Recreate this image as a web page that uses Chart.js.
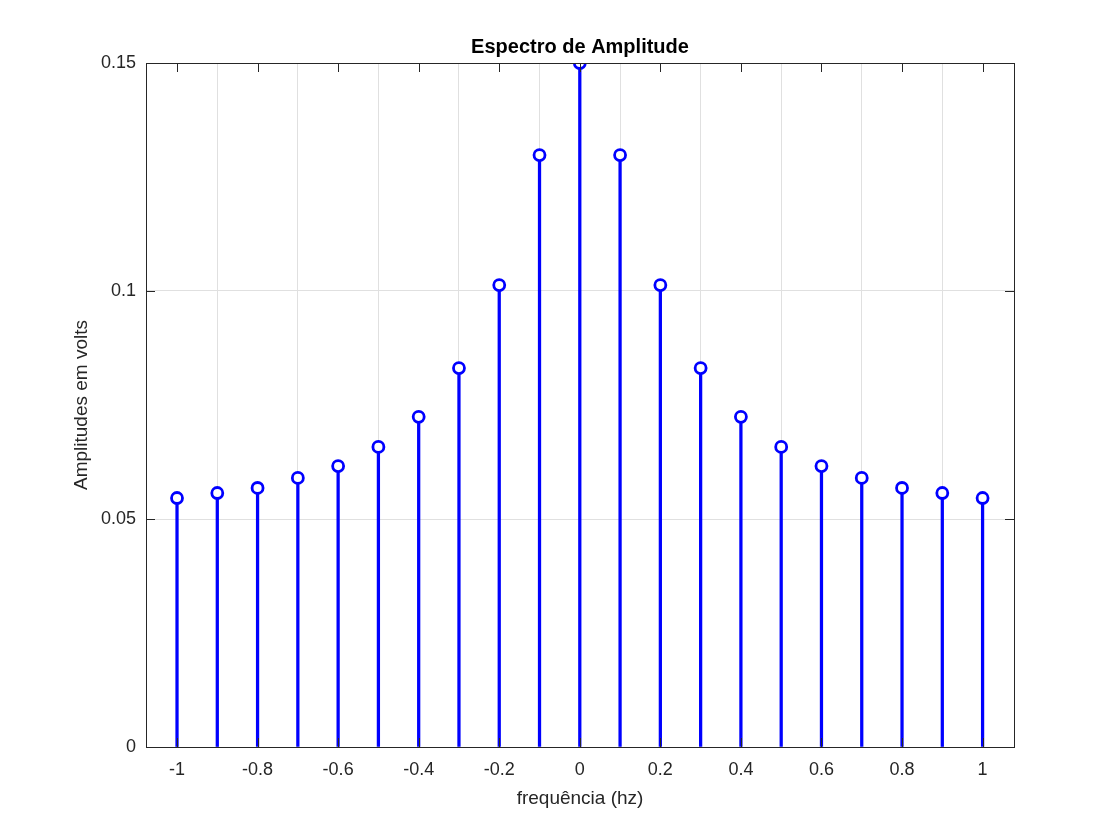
<!DOCTYPE html>
<html><head><meta charset="utf-8">
<script src="https://cdn.jsdelivr.net/npm/chart.js@4/dist/chart.umd.min.js"></script>
<style>html,body{margin:0;background:#fff}#wrap{width:1120px;height:840px}</style>
</head><body><div id="wrap"><canvas id="c"></canvas></div>
<script>
const freqs = [-1,-0.9,-0.8,-0.7,-0.6,-0.5,-0.4,-0.3,-0.2,-0.1,0,0.1,0.2,0.3,0.4,0.5,0.6,0.7,0.8,0.9,1];
const amps = [0.0546,0.0557,0.0568,0.0590,0.0616,0.0658,0.0724,0.0831,0.1013,0.1298,0.15,
              0.1298,0.1013,0.0831,0.0724,0.0658,0.0616,0.0590,0.0568,0.0557,0.0546];
const xTicks = [-1,-0.8,-0.6,-0.4,-0.2,0,0.2,0.4,0.6,0.8,1];
const yTicks = [0,0.05,0.1,0.15];
const titleText = "Espectro de Amplitude";
const FONT = "'Liberation Sans', Arial, sans-serif";

const pts = freqs.map((f,i)=>({x:f, y:amps[i]}));

const frame = {
  id:"frame",
  afterDraw(chart){
    const {ctx, chartArea:a, scales:{x,y}} = chart;
    ctx.save();
    ctx.strokeStyle="#262626"; ctx.lineWidth=1;
    ctx.strokeRect(a.left+0.5,a.top+0.5,a.right-a.left,a.bottom-a.top);
    ctx.beginPath();
    xTicks.forEach(v=>{const px=Math.round(x.getPixelForValue(v))+0.5;
      ctx.moveTo(px,a.bottom);ctx.lineTo(px,a.bottom-9);ctx.moveTo(px,a.top);ctx.lineTo(px,a.top+9);});
    yTicks.forEach(v=>{const py=Math.round(y.getPixelForValue(v))+0.5;
      ctx.moveTo(a.left,py);ctx.lineTo(a.left+9,py);ctx.moveTo(a.right,py);ctx.lineTo(a.right-9,py);});
    ctx.stroke();
    ctx.fillStyle="#000"; ctx.font="bold 20px "+FONT; ctx.textAlign="center"; ctx.textBaseline="bottom";
    ctx.fillText(titleText,(a.left+a.right)/2,a.top-6);
    ctx.restore();
  }
};

new Chart(document.getElementById("c"),{
  type:"bar",
  data:{datasets:[
    {type:"scatter",data:pts,pointRadius:5.5,pointBorderWidth:2.8,pointBackgroundColor:"#fff",
     pointBorderColor:"#0000ff",borderColor:"#0000ff",order:0},
    {type:"bar",data:pts,backgroundColor:"#0000ff",barThickness:2.6,order:1}
  ]},
  options:{
    responsive:true,maintainAspectRatio:false,animation:false,
    layout:{padding:{top:63,right:106,left:70,bottom:30}},
    plugins:{legend:{display:false},tooltip:{enabled:false}},
    scales:{
      x:{type:"linear",min:-1.077,max:1.078,offset:false,
        afterBuildTicks(s){s.ticks=xTicks.map(v=>({value:v}));},
        afterFit(s){s.height=63;},
        grid:{color:"#e0e0e0",tickLength:0,drawTicks:false},border:{display:false},
        ticks:{padding:12,color:"#262626",font:{family:FONT,size:18},callback:v=>String(Math.round(v*10)/10)},
        title:{display:true,text:"frequência (hz)",color:"#262626",font:{family:FONT,size:19},padding:{top:4,bottom:0}}},
      y:{min:0,max:0.15,
        afterBuildTicks(s){s.ticks=yTicks.map(v=>({value:v}));},
        afterFit(s){s.width=76;},
        grid:{color:"#e0e0e0",tickLength:0,drawTicks:false},border:{display:false},
        ticks:{padding:10,color:"#262626",font:{family:FONT,size:18},callback:v=>String(Math.round(v*100)/100)},
        title:{display:true,text:"Amplitudes em volts",color:"#262626",font:{family:FONT,size:19},padding:{top:0,bottom:0}}}
    }
  },
  plugins:[frame]
});
</script></body></html>
